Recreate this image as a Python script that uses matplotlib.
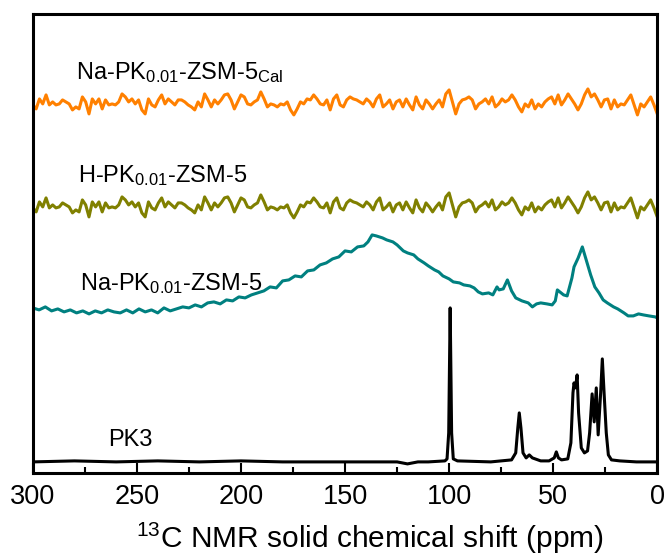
import numpy as np
import matplotlib
matplotlib.use("Agg")
import matplotlib.pyplot as plt
from matplotlib.ticker import MultipleLocator

plt.rcParams['font.family'] = ['Liberation Sans', 'DejaVu Sans']
plt.rcParams['mathtext.fontset'] = 'custom'
plt.rcParams['mathtext.rm'] = 'Liberation Sans'
plt.rcParams['mathtext.it'] = 'Liberation Sans:italic'

# noise pattern of the calcined / H-form samples (offsets, left->right = 300->0 ppm)
noise = [-3, -7, 3, -2, 7, -3, 0, -3, -2, 2, 0, -2, -8, -5, -7, 5, 0, -12, 3, -2,
         3, -7, 2, -3, -2, -3, 0, 8, 5, 0, 3, -2, 2, -8, -12, 3, -3, -5, 2, 7,
         -2, 3, 0, -3, 2, 2, 0, -3, -5, -8, 0, -5, 8, 2, -5, 2, -2, 2, 7, 8,
         2, -7, 0, 7,
         5, -2, -3, 0, 2, 10, 3, -5, -2, -3, -5, -2, -3, 0, -8, -13, -7, 0, -2, 3,
         2, 7, 3, -2, -3, 2, -8, 3, 7, -3, -5, 2, 5, 3, 2, 0, -2, 3, 0, -5,
         3, 7, -5, -2, 2, -7, 0, 2, -5, 3, -3, -8, 5, -3, -7, 2, -2, -7, -2, 2,
         -5, 8, 12, 0, -12,
         -2, 2, 3, 5, 2, -7, -2, 0, 3, -2, 5, -5, -2, 3, 0, 2, 7, 2, -5, -10,
         -2, -5, 2, -7, -2, -5, 0, 3, 5, -2, 7, -3, 2, 8, 3, -2, -8, -2, 7, 13,
         5, 8, 2, -5, 2, 3, -7, 2, -5, -2, -3, 2, 7, -3, -13, -2, -5, 0, 5, -3,
         -12]
cal_level = 371
h_level = 268

# Na-PK0.01-ZSM-5
na_ppm = [300, 297, 294, 291, 288, 285, 282, 279, 276, 273, 270, 267, 264, 261,
          258, 255, 252, 249, 246, 243, 240, 237, 234, 231, 228, 225, 222, 219,
          216, 213, 210, 207, 204, 201, 198, 195, 192, 189, 186, 183, 180, 177,
          174, 171, 168, 165, 162, 159, 156, 153, 150, 147, 144, 141, 139, 137,
          135, 132, 130, 127, 125, 122, 120, 117, 115, 112, 110, 107, 105, 103,
          100, 98, 95, 93, 90, 88, 86, 84, 81, 79, 77, 76, 74, 72, 70, 68, 65,
          62, 60, 58, 56, 53, 50.5, 49, 48, 45, 43.3, 41, 40, 38, 36, 34, 32,
          30, 28, 26, 24, 21, 19, 16, 14, 11.5, 9, 6.7, 4, 1, 0]
na_int = [165, 163, 166, 162, 164, 161, 163, 160, 162, 159, 162, 160, 163, 161,
          160, 163, 160, 164, 161, 163, 160, 165, 162, 164, 166, 165, 168, 166,
          170, 171, 169, 173, 172, 176, 175, 178, 180, 182, 186, 185, 192, 193,
          197, 196, 202, 203, 208, 210, 214, 216, 222, 221, 226, 227, 231, 238,
          237, 235, 233, 231, 228, 222, 220, 218, 214, 210, 207, 203, 201, 197,
          194, 191, 190, 188, 187, 185, 181, 179, 180, 178, 186, 183, 184, 193,
          182, 175, 172, 170, 166, 169, 170, 169, 168, 172, 183, 178, 177, 195,
          206, 215, 226, 212, 198, 186, 180, 173, 170, 166, 164, 160, 157, 157,
          159, 158, 157, 156, 155]

# PK3
pk_ppm = [300, 280, 260, 240, 220, 200, 180, 160, 140, 125, 120, 115, 110, 102,
          101, 100.2, 99.5, 98.8, 98, 96, 80, 70, 68, 67, 66.3, 65.5, 64.5, 63,
          61.5, 60, 56, 52, 49.5, 48.5, 47.5, 46, 43, 41.5, 40.5, 40, 39.3, 38.5,
          37.8, 36.5, 35, 33.5, 32.5, 31.3, 30.3, 29.3, 28.4, 27.2, 26.4, 25.5,
          24.5, 23.5, 22, 18, 10, 0]
pk_int = [11, 12, 11, 12, 11, 12, 11, 11, 11, 11, 9, 11, 11, 12,
          14, 40, 165, 40, 14, 12, 11, 13, 20, 45, 60, 45, 20, 15,
          18, 15, 12, 12, 15, 21, 15, 13, 14, 30, 80, 90, 85, 98,
          60, 25, 20, 22, 40, 79, 51, 85, 38, 80, 114, 78,
          40, 18, 13, 12, 11, 11]

fig, ax = plt.subplots(figsize=(6.7, 5.57), dpi=100)
fig.subplots_adjust(left=0.049, right=0.981, bottom=0.151, top=0.975)

noise_ppm = np.linspace(300, 0, len(noise))
noise = np.array(noise)
ax.plot(noise_ppm, cal_level + noise, color='#ff8000', lw=2.2)
ax.plot(noise_ppm, h_level + noise, color='#808000', lw=2.2)
ax.plot(na_ppm, na_int, color='#008080', lw=2.2)
ax.plot(pk_ppm, pk_int, color='black', lw=2.2)

fs = 17
ax.text(279.3, 394, r'Na-PK$_\mathregular{0.01}$-ZSM-5$_\mathregular{Cal}$', fontsize=fs)
ax.text(278.5, 291, r'H-PK$_\mathregular{0.01}$-ZSM-5', fontsize=fs)
ax.text(277.5, 183, r'Na-PK$_\mathregular{0.01}$-ZSM-5', fontsize=fs)
ax.text(264, 27, 'PK3', fontsize=fs)

ax.set_xlim(300, 0)
ax.set_ylim(0, 459)
ax.set_yticks([])
ax.xaxis.set_major_locator(MultipleLocator(50))
ax.xaxis.set_minor_locator(MultipleLocator(25))
ax.tick_params(axis='x', which='major', direction='in', length=7, width=1.5,
               labelsize=19.5, pad=8)
ax.tick_params(axis='x', which='minor', direction='in', length=4, width=1.5)
for s in ax.spines.values():
    s.set_linewidth(2.2)
ax.set_xlabel(r'$^\mathregular{13}$C NMR solid chemical shift (ppm)', fontsize=21.5)
ax.xaxis.label.set_va('baseline')
ax.xaxis.set_label_coords(0.54, -0.163)

plt.savefig('out.png', dpi=100)
